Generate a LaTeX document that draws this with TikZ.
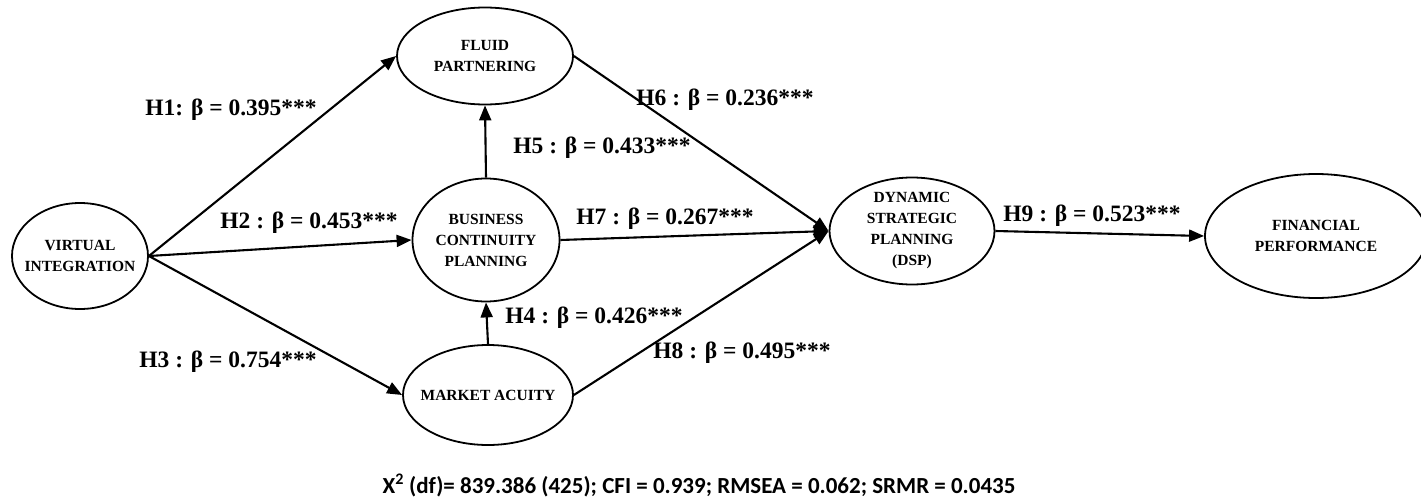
\documentclass[tikz,border=0pt]{standalone}
\usepackage{fontspec}
\setmainfont{Liberation Serif}
\newfontfamily\footfont{Carlito}
\usetikzlibrary{shapes.geometric,arrows.meta}
\begin{document}
\begin{tikzpicture}[x=1pt,y=-1pt,
  latent/.style={ellipse,draw,line width=1.8pt,inner sep=0pt},
  ltext/.style={align=center,inner sep=0pt,
    font=\fontsize{15.5}{21}\selectfont\bfseries},
  path/.style={line width=2.1pt,-{Triangle[length=15pt,width=12pt]}},
  coef/.style={font=\fontsize{23.5}{26}\selectfont\bfseries,inner sep=0pt}]
\useasboundingbox (0,0) rectangle (1421,498);
\node[latent,minimum width=136pt,minimum height=106pt] (vi) at (80,256) {};
\node[latent,minimum width=176pt,minimum height=97pt] (fp) at (485,56) {};
\node[latent,minimum width=147pt,minimum height=123pt] (bcp) at (486,240) {};
\node[latent,minimum width=170pt,minimum height=100pt] (ma) at (488,395) {};
\node[latent,minimum width=165pt,minimum height=107pt] (dsp) at (912,231) {};
\node[latent,minimum width=222pt,minimum height=124pt] (fin) at (1316,236) {};

\node[ltext] (tvi) at (vi) {VIRTUAL\\INTEGRATION};
\node[ltext] (tfp) at (fp) {FLUID\\PARTNERING};
\node[ltext] (tbcp) at (bcp) {BUSINESS\\CONTINUITY\\PLANNING};
\node[ltext] (tma) at (ma) {MARKET ACUITY};
\node[ltext] (tdsp) at (dsp) {DYNAMIC\\STRATEGIC\\PLANNING\\(DSP)};
\node[ltext] (tfin) at (fin) {FINANCIAL\\PERFORMANCE};

\draw[path] (vi.east) -- (fp.west);
\draw[path] (vi.east) -- (bcp.west);
\draw[path] (vi.east) -- (ma.west);
\draw[path] (bcp.north) -- (fp.south);
\draw[path] (ma.north) -- (bcp.south);
\draw[path] (fp.east) -- (dsp.west);
\draw[path] (bcp.east) -- (dsp.west);
\draw[path] (ma.east) -- (dsp.west);
\draw[path] (dsp.east) -- (fin.west);

\node[coef] (h1) at (231,110) {H1: β = 0.395***};
\node[coef] (h2) at (309,223) {H2 : β = 0.453***};
\node[coef] (h3) at (228,362) {H3 : β = 0.754***};
\node[coef] (h4) at (594,318) {H4 : β = 0.426***};
\node[coef] (h5) at (602,148) {H5 : β = 0.433***};
\node[coef] (h6) at (725,100) {H6 : β = 0.236***};
\node[coef] (h7) at (665,219) {H7 : β = 0.267***};
\node[coef] (h8) at (742,353) {H8 : β = 0.495***};
\node[coef] (h9) at (1092,216) {H9 : β = 0.523***};

\node[font=\footfont\fontsize{23}{25}\selectfont\bfseries,inner sep=0pt] (fit) at (699,485)
  {X\textsuperscript{2} (df)= 839.386 (425); CFI = 0.939; RMSEA = 0.062; SRMR = 0.0435};
\end{tikzpicture}
\end{document}
